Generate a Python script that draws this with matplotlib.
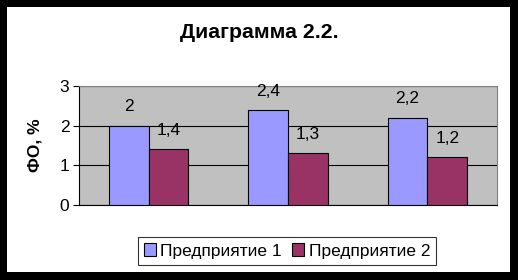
import matplotlib.pyplot as plt
import numpy as np
from matplotlib.patches import Rectangle

# data
categories = ["1", "2", "3"]
series_names = ["Предприятие 1", "Предприятие 2"]
values_1 = [2.0, 2.4, 2.2]
values_2 = [1.4, 1.3, 1.2]
labels_1 = ["2", "2,4", "2,2"]
labels_2 = ["1,4", "1,3", "1,2"]

plt.rcParams["font.family"] = ["Liberation Sans", "DejaVu Sans"]

fig = plt.figure(figsize=(5.18, 2.80), dpi=100, facecolor="black")
# white card inside black frame
fig.patches.append(Rectangle((7 / 518, 8 / 280), 503 / 518, 265 / 280,
                             transform=fig.transFigure, facecolor="white",
                             edgecolor="none", zorder=-1))

ax = fig.add_axes([79 / 518, 75 / 280, 418 / 518, 119 / 280])
ax.set_facecolor("#C0C0C0")

x = np.arange(len(categories))
w = 1 / 3.5
b1 = ax.bar(x - w / 2, values_1, w, color="#9999FF", edgecolor="black", linewidth=0.8, zorder=3)
b2 = ax.bar(x + w / 2, values_2, w, color="#993366", edgecolor="black", linewidth=0.8, zorder=3)

for bars, labs in ((b1, labels_1), (b2, labels_2)):
    for r, lab in zip(bars, labs):
        ax.annotate(lab, (r.get_x() + r.get_width() / 2, r.get_height()),
                    xytext=(0, 13.5), textcoords="offset points",
                    ha="center", va="center", fontsize=12.5)

ax.set_xlim(-0.5, 2.5)
ax.set_ylim(0, 3)
ax.set_yticks([0, 1, 2, 3])
ax.set_xticks([])
ax.tick_params(axis="y", labelsize=12.5, length=4, width=0.8, pad=3)
ax.yaxis.grid(True, color="black", linewidth=0.8, zorder=1)
ax.set_axisbelow(True)
for s in ("top", "right"):
    ax.spines[s].set_color("#808080")
for s in ("left", "bottom"):
    ax.spines[s].set_color("black")
ax.set_ylabel("ФО, %", fontsize=12.5, fontweight="bold", labelpad=12)

fig.text(259 / 518, 1 - 33 / 280, "Диаграмма 2.2.", ha="center", va="center",
         fontsize=15.3, fontweight="bold")

leg = fig.legend([b1, b2], series_names, loc="center",
                 bbox_to_anchor=(287 / 518, 1 - 251 / 280), ncol=2,
                 fontsize=12.5, frameon=True, fancybox=False, edgecolor="black",
                 handlelength=0.7, handleheight=0.7, handletextpad=0.25,
                 columnspacing=0.6, borderpad=0.35, borderaxespad=0)
leg.get_frame().set_linewidth(0.8)

fig.savefig("out.png", dpi=100, facecolor="black")
